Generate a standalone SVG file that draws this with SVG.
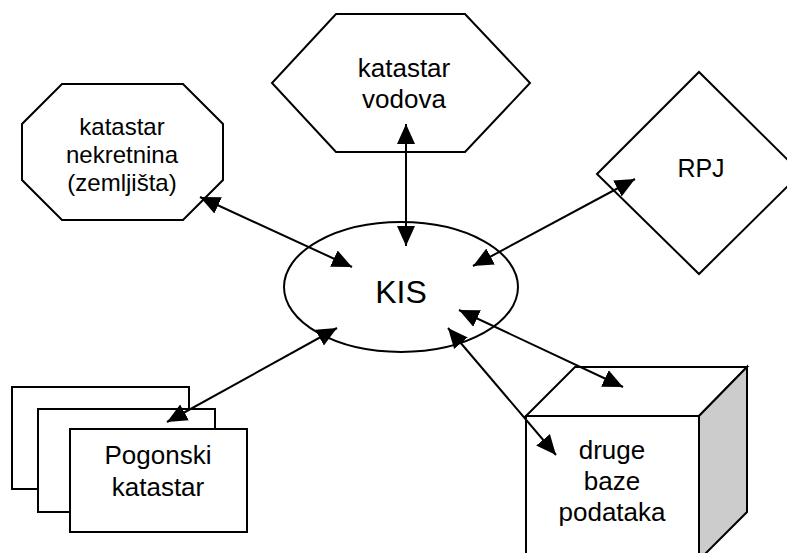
<svg xmlns="http://www.w3.org/2000/svg" width="787" height="553" viewBox="0 0 787 553">
<style>
.s{fill:#fff;stroke:#000;stroke-width:2}
.t{font-family:"Liberation Sans",Arial,sans-serif;fill:#000;text-anchor:middle}
.c{stroke:#000;stroke-width:2;fill:none;marker-start:url(#a);marker-end:url(#a)}
</style>
<defs>
<marker id="a" viewBox="0 0 20 20" refX="20" refY="10" markerWidth="20" markerHeight="20" markerUnits="userSpaceOnUse" orient="auto-start-reverse">
<path d="M0,1 L20,10 L0,19 Z" fill="#000"/>
</marker>
</defs>
<rect width="787" height="553" fill="#fff"/>
<g id="kis">
<ellipse class="s" cx="401" cy="287" rx="117" ry="65"/>
<text class="t" x="401" y="303" font-size="32">KIS</text>
</g>
<g id="vodova">
<polygon class="s" points="336,14 465,14 530,83 465,152 336,152 272,83"/>
<text class="t" x="404" y="77" font-size="26">katastar</text>
<text class="t" x="404" y="108" font-size="26">vodova</text>
</g>
<g id="nekretnina">
<polygon class="s" points="62,84 183,84 223,124 223,180 183,220 62,220 22,180 22,124"/>
<text class="t" x="122" y="135" font-size="24">katastar</text>
<text class="t" x="122" y="163" font-size="24">nekretnina</text>
<text class="t" x="122" y="191" font-size="24">(zemljišta)</text>
</g>
<g id="rpj">
<polygon class="s" points="597,174 699,72 801,173 699,274"/>
<text class="t" x="701" y="177" font-size="25">RPJ</text>
</g>
<g id="pogonski">
<rect class="s" x="12" y="387" width="177" height="102"/>
<rect class="s" x="38" y="409" width="177" height="103"/>
<rect class="s" x="70" y="429" width="177" height="103"/>
<text class="t" x="158" y="464" font-size="26">Pogonski</text>
<text class="t" x="158" y="496" font-size="26">katastar</text>
</g>
<g id="baze">
<polygon class="s" points="526,416 575,367 747,367 699,416"/>
<polygon points="699,416 747,367 747,512 699,560" fill="#cccccc" stroke="#000" stroke-width="2"/>
<rect class="s" x="526" y="416" width="173" height="150"/>
<text class="t" x="612" y="459" font-size="26">druge</text>
<text class="t" x="612" y="490" font-size="26">baze</text>
<text class="t" x="612" y="521" font-size="26">podataka</text>
</g>
<g id="connectors">
<line class="c" x1="406" y1="124" x2="406" y2="246"/>
<line class="c" x1="200" y1="197" x2="352" y2="267"/>
<line class="c" x1="635" y1="179" x2="473" y2="266"/>
<line class="c" x1="167" y1="422" x2="337" y2="328"/>
<line class="c" x1="459" y1="310" x2="623" y2="387"/>
<line class="c" x1="448" y1="328" x2="556" y2="455"/>
</g>
</svg>
